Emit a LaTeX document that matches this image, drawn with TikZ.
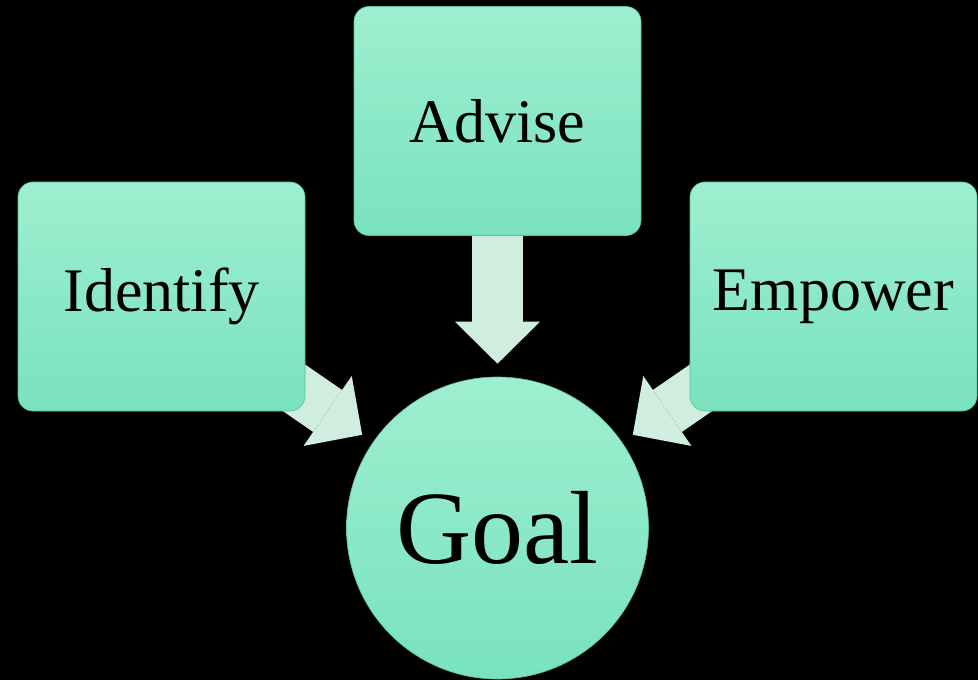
\documentclass[tikz,border=0pt]{standalone}
\usepackage{fontspec}
\setmainfont{Liberation Serif}
\usetikzlibrary{positioning,arrows.meta}
\definecolor{mintlight}{HTML}{9EEFD0}
\definecolor{mintdark}{HTML}{79E2BD}
\definecolor{mintedge}{HTML}{5DBF9B}
\definecolor{arrowmint}{HTML}{CFEEDF}
\pgfdeclarelayer{back}
\pgfdeclarelayer{arrows}
\pgfsetlayers{back,arrows,main}

\begin{document}
\begin{tikzpicture} [x=1pt,y=-1pt,
	stepbox/.style={
		rectangle, rounded corners=15pt,
		minimum width=287pt, minimum height=229pt,
		top color=mintlight, bottom color=mintdark,
		draw=mintedge, line width=0.6pt,
		font=\fontsize{62}{70}\selectfont
	},
	goalcircle/.style={
		circle, minimum size=302pt, inner sep=0pt,
		top color=mintlight, bottom color=mintdark,
		draw=mintedge, line width=0.6pt,
		font=\fontsize{104}{110}\selectfont
	},
	bigarrow/.style={
		draw=arrowmint, line width=51pt,
		-{Triangle[length=42pt,width=85pt,line width=0pt]},
		shorten >=13pt
	}
]
	\useasboundingbox (0,0) rectangle (978,680);
	\begin{pgfonlayer}{back}
		\fill[black] (0,0) rectangle (978,680);
	\end{pgfonlayer}

	\node[stepbox] (advise) at (497.5,121) {Advise};
	\node[stepbox] (identify) at (161.5,296.5) {Identify};
	\node[stepbox] (empower) at (833.5,296.5) {Empower};
	\node[goalcircle] (goal) at (497.5,528) {Goal};

	% arrows sit under the boxes
	\begin{pgfonlayer}{arrows}
		\foreach \src in {identify,advise,empower}
			\draw[bigarrow] (\src.center) -- (goal);
	\end{pgfonlayer}
\end{tikzpicture}
\end{document}
